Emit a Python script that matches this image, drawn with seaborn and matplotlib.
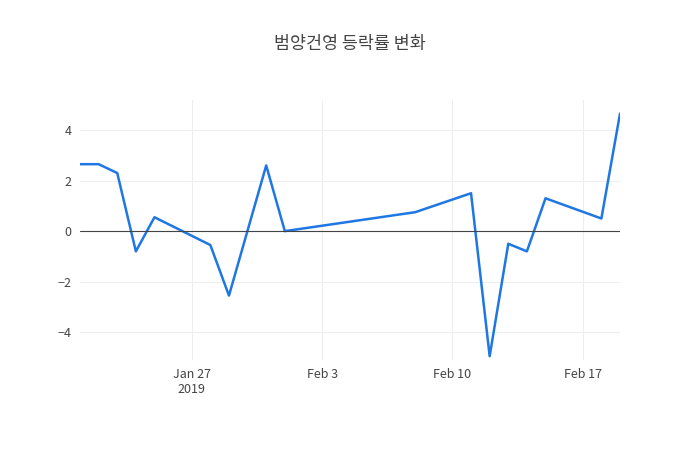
import matplotlib
matplotlib.use("Agg")
import matplotlib.pyplot as plt
import matplotlib.dates as mdates
import seaborn as sns
import pandas as pd

dates = ["2019-01-21", "2019-01-22", "2019-01-23", "2019-01-24", "2019-01-25",
         "2019-01-28", "2019-01-29", "2019-01-31", "2019-02-01", "2019-02-08",
         "2019-02-11", "2019-02-12", "2019-02-13", "2019-02-14", "2019-02-15",
         "2019-02-18", "2019-02-19"]
changes = [2.65, 2.65, 2.3, -0.8, 0.55, -0.55, -2.55, 2.6, 0.0, 0.75,
           1.5, -4.95, -0.5, -0.8, 1.3, 0.5, 4.65]

df = pd.DataFrame({"date": pd.to_datetime(dates), "change": changes})

sns.set_style("white")
plt.rcParams['font.family'] = ['Noto Sans CJK KR', 'DejaVu Sans']

fig = plt.figure(figsize=(7, 4.5), dpi=100)
ax = fig.add_axes([80 / 700, 90 / 450, 540 / 700, 260 / 450])
sns.lineplot(data=df, x="date", y="change", ax=ax, color="#1f77e4", linewidth=1.8)
ax.axhline(0, color="#444444", linewidth=0.8)

ax.set_xlim(pd.Timestamp("2019-01-21"), pd.Timestamp("2019-02-19"))
ax.set_ylim(-5.1, 5.19)
ax.set_yticks([-4, -2, 0, 2, 4])
ax.set_yticklabels(["\u22124", "\u22122", "0", "2", "4"])
ticks = pd.to_datetime(["2019-01-27", "2019-02-03", "2019-02-10", "2019-02-17"])
ax.set_xticks(ticks)
ax.set_xticklabels(["Jan 27\n2019", "Feb 3", "Feb 10", "Feb 17"])
ax.grid(True, color="#eeeeee", linewidth=0.8)
for s in ax.spines.values():
    s.set_visible(False)
ax.tick_params(length=0, labelsize=9, colors="#444444", pad=6)
ax.set_xlabel("")
ax.set_ylabel("")
fig.text(0.5, 1 - 44 / 450, "범양건영 등락률 변화", ha="center", va="center",
         fontsize=12.5, color="#444444")
fig.savefig("out.png", dpi=100)
